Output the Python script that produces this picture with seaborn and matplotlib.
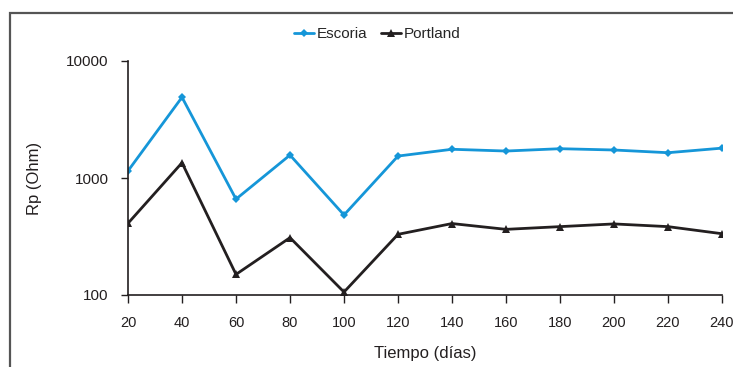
import matplotlib
matplotlib.use("Agg")
import matplotlib.pyplot as plt
import numpy as np
import pandas as pd
import seaborn as sns
from matplotlib.patches import Rectangle

dias = [20, 40, 60, 80, 100, 120, 140, 160, 180, 200, 220, 240]
escoria = [1150, 4900, 660, 1570, 483, 1540, 1760, 1700, 1780, 1735, 1645, 1800]
portland = [410, 1350, 150, 309, 106, 330, 408, 364, 384, 405, 384, 334]

sns.set_style("white")
plt.rcParams['font.family'] = ['Liberation Sans', 'DejaVu Sans']

fig = plt.figure(figsize=(7.33, 3.67), dpi=100)
ax = fig.add_axes([128 / 733, 1 - 295 / 367, 594 / 733, 234 / 367])

# outer chart frame (cut off at right and bottom like the source)
fig.patches.append(Rectangle((10 / 733, -0.1), 1.2, 1 - 13 / 367 + 0.1,
                             transform=fig.transFigure, fill=False,
                             edgecolor='#555555', linewidth=1.6))

df = pd.DataFrame({'dias': dias, 'Escoria': escoria, 'Portland': portland})
sns.lineplot(data=df, x='dias', y='Escoria', ax=ax, color='#1596d8', lw=2,
             marker='D', markersize=4, markeredgewidth=0, label='Escoria')
sns.lineplot(data=df, x='dias', y='Portland', ax=ax, color='#231f20', lw=2,
             marker='^', markersize=6, markeredgewidth=0, label='Portland')

ax.set_yscale('log')
ax.set_ylim(100, 10000)
ax.set_xlim(20, 240)
ax.set_xticks(dias)
ax.set_yticks([100, 1000, 10000])
ax.set_yticklabels(['100', '1000', '10000'])
ax.minorticks_off()
ax.tick_params(axis='y', direction='out', length=5, width=1, pad=9,
               labelsize=11, left=True, color='#231f20', labelcolor='#231f20')
ax.tick_params(axis='x', direction='out', length=6, width=1, pad=9,
               labelsize=10.5, bottom=True, color='#231f20', labelcolor='#231f20')
for s in ['top', 'right']:
    ax.spines[s].set_visible(False)
for s in ['left', 'bottom']:
    ax.spines[s].set_color('#231f20')
    ax.spines[s].set_linewidth(1.2)

ax.set_xlabel('Tiempo (días)', fontsize=12, color='#231f20')
ax.xaxis.set_label_coords(0.5, -0.22)
ax.set_ylabel('Rp (Ohm)', fontsize=12, color='#231f20')
ax.yaxis.set_label_coords(-0.145, 0.5)

ax.legend(loc='center', bbox_to_anchor=(0.42, 1.115), ncol=2, frameon=False,
          fontsize=11, handlelength=1.3, handletextpad=0.2, columnspacing=0.9,
          borderaxespad=0, borderpad=0)

fig.savefig('out.png', dpi=100)
